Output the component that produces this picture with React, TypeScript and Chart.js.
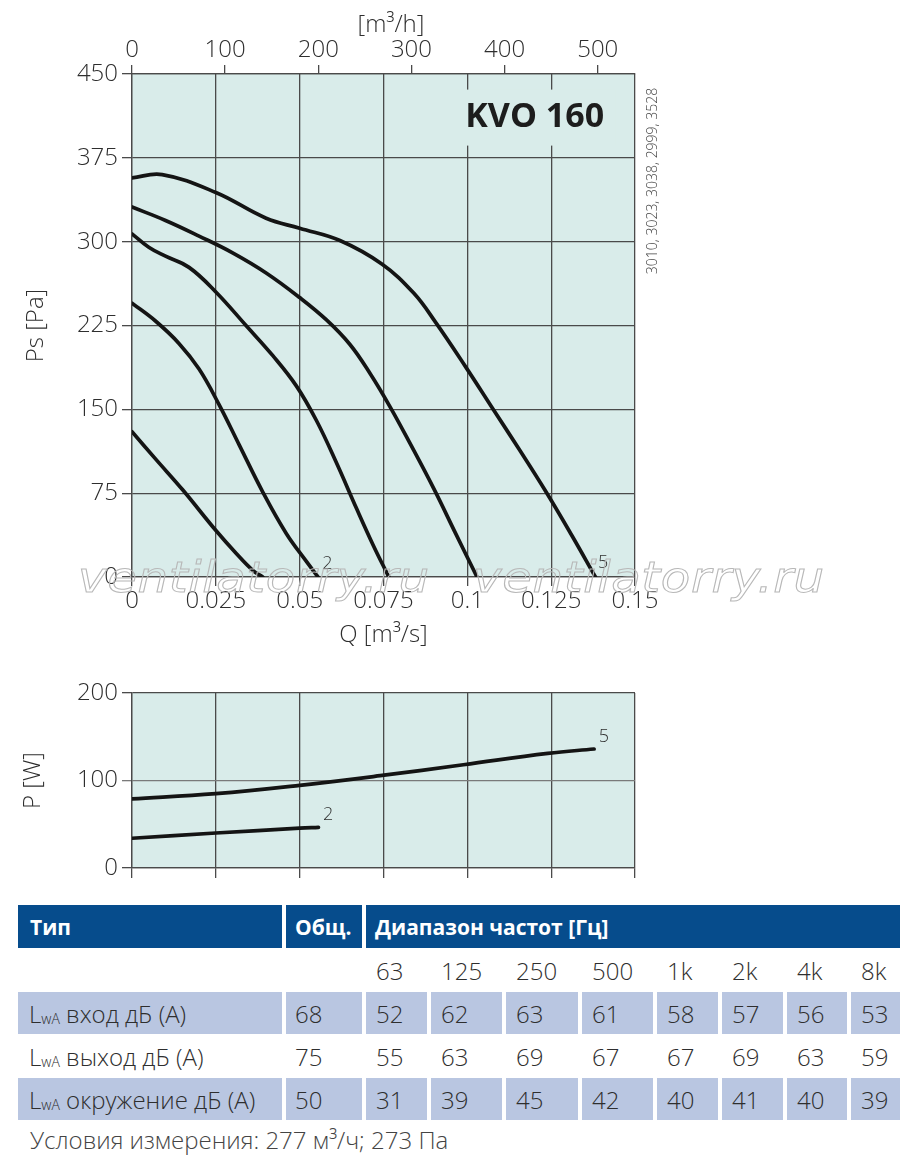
import React, { useEffect, useRef } from "react";
import { Chart, registerables } from "chart.js";

Chart.register(...registerables);

const FONT = "'Open Sans', 'Noto Sans', 'DejaVu Sans', sans-serif";
const TEXT = "#2e2e2e";
const GRID = "#4a4a4a";
const GRID_LIGHT = "#7a7a7a";
const PLOT_BG = "#d9ecea";
const CURVE = "#141414";
const HEADER_BG = "#064c8c";
const ROW_BG = "#b9c6e1";

// ---------- Top chart: static pressure vs airflow ----------
const Q_MAX = 0.15;
const Q_STEP = 0.025;
const PS_MAX = 450;
const PS_STEP = 75;
const QH_MAX = 540;
const QH_STEP = 100;

const CURVE1_Q = [0, 0.0072, 0.0151, 0.0249, 0.0311, 0.036, 0.039];
const CURVE1_PS = [130, 105, 78, 42, 21, 6, 0];

const CURVE2_Q = [0, 0.007, 0.014, 0.02, 0.026, 0.032, 0.039, 0.046, 0.052, 0.0555];
const CURVE2_PS = [245, 229, 209, 186, 154, 118, 76, 39, 14, 0];

const CURVE3_Q = [0, 0.005, 0.01, 0.017, 0.025, 0.034, 0.042, 0.049, 0.055, 0.061, 0.067, 0.072, 0.0766];
const CURVE3_PS = [307, 295, 287, 277, 255, 225, 198, 171, 140, 102, 61, 28, 0];

const CURVE4_Q = [0, 0.01, 0.02, 0.03, 0.04, 0.05, 0.058, 0.065, 0.071, 0.077, 0.083, 0.09, 0.0965, 0.1029];
const CURVE4_PS = [331, 319, 305, 290, 272, 250, 230, 208, 182, 152, 119, 79, 39, 0];

const CURVE5_Q = [0, 0.009, 0.025, 0.04, 0.05, 0.062, 0.0745, 0.084, 0.0905, 0.0995, 0.1075, 0.1155, 0.1235, 0.131, 0.1382];
const CURVE5_PS = [357, 360, 344, 321, 312, 301, 280, 254, 228, 188, 151, 114, 76, 38, 0];

const CURVE_TAGS = ["2", "5"];
const CURVE_TAG_Q = [0.0583, 0.1405];
const CURVE_TAG_PS = [12, 12.5];

const MODEL = "KVO 160";
const MODEL_Q = 0.1201;
const MODEL_PS = 411;
const ARTICLES = "3010, 3023, 3038, 2999, 3528";
const FLOW_H_TITLE = "[m³/h]";
const FLOW_H_TITLE_AT = 278;

// ---------- Lower chart: power ----------
const P_MAX = 200;
const P_STEP = 100;
const POWER5_Q = [0, 0.025, 0.05, 0.074, 0.0988, 0.124, 0.1378];
const POWER5_W = [79, 85, 94.5, 105.5, 118, 131, 136];
const POWER2_Q = [0, 0.025, 0.05, 0.0556];
const POWER2_W = [34, 40, 45.5, 46.5];
const POWER_TAGS = ["2", "5"];
const POWER_TAG_Q = [0.0585, 0.1407];
const POWER_TAG_W = [61, 150];

// ---------- Table ----------
const FREQS = ["63", "125", "250", "500", "1k", "2k", "4k", "8k"];
const ROW_NAMES = ["вход дБ (А)", "выход дБ (А)", "окружение дБ (А)"];
const TOTALS = [68, 75, 50];
const INLET = [52, 62, 63, 61, 58, 57, 56, 53];
const OUTLET = [55, 63, 69, 67, 67, 69, 63, 59];
const SURROUND = [31, 39, 45, 42, 40, 41, 40, 39];
const NOTE = "Условия измерения: 277 м³/ч; 273 Па";
const WATERMARK = "ventilatorry.ru";

const tickFont = { family: FONT, size: 24, weight: "300" as any };

function pts(xs: number[], ys: number[]) {
  return xs.map((x, i) => ({ x, y: ys[i] }));
}

function fmtQ(v: number) {
  const n = Number(v);
  if (Math.abs(n) < 1e-9) return "0";
  return String(parseFloat(n.toFixed(3)));
}

const plotBackground = {
  id: "plotBackground",
  beforeDraw(chart: any) {
    const { ctx, chartArea } = chart;
    if (!chartArea) return;
    ctx.save();
    ctx.fillStyle = PLOT_BG;
    ctx.fillRect(chartArea.left, chartArea.top, chartArea.right - chartArea.left, chartArea.bottom - chartArea.top);
    ctx.restore();
  },
};

function curveDataset(xs: number[], ys: number[]) {
  return {
    data: pts(xs, ys),
    borderColor: CURVE,
    borderWidth: 3.7,
    pointRadius: 0,
    fill: false,
    tension: 0.4,
    borderCapStyle: "round" as const,
    borderJoinStyle: "round" as const,
  };
}

const topAnnotations = {
  id: "topAnnotations",
  beforeDatasetsDraw(chart: any) {
    const { ctx, scales } = chart;
    const cx = scales.x.getPixelForValue(MODEL_Q);
    const cy = scales.y.getPixelForValue(MODEL_PS);
    ctx.save();
    ctx.font = `bold 34px ${FONT}`;
    const w = ctx.measureText(MODEL).width + 22;
    ctx.fillStyle = PLOT_BG;
    ctx.fillRect(cx - w / 2, cy - 28, w, 56);
    ctx.fillStyle = "#1d1d1d";
    ctx.textAlign = "center";
    ctx.textBaseline = "middle";
    ctx.fillText(MODEL, cx, cy);
    ctx.restore();
  },
  afterDatasetsDraw(chart: any) {
    const { ctx, scales, chartArea } = chart;
    ctx.save();
    ctx.fillStyle = TEXT;
    ctx.textAlign = "center";
    ctx.textBaseline = "middle";
    ctx.font = `300 18px ${FONT}`;
    CURVE_TAGS.forEach((t, i) => {
      ctx.fillText(t, scales.x.getPixelForValue(CURVE_TAG_Q[i]), scales.y.getPixelForValue(CURVE_TAG_PS[i]));
    });
    ctx.font = `300 24px ${FONT}`;
    ctx.fillText(FLOW_H_TITLE, scales.x2.getPixelForValue(FLOW_H_TITLE_AT), chartArea.top - 49);
    ctx.font = `300 14px ${FONT}`;
    ctx.fillStyle = "#444";
    ctx.translate(chartArea.right + 18, chartArea.top + 107);
    ctx.rotate(-Math.PI / 2);
    ctx.fillText(ARTICLES, 0, 0);
    ctx.restore();
  },
};

const lowAnnotations = {
  id: "lowAnnotations",
  afterDatasetsDraw(chart: any) {
    const { ctx, scales } = chart;
    ctx.save();
    ctx.fillStyle = TEXT;
    ctx.textAlign = "center";
    ctx.textBaseline = "middle";
    ctx.font = `300 18px ${FONT}`;
    POWER_TAGS.forEach((t, i) => {
      ctx.fillText(t, scales.x.getPixelForValue(POWER_TAG_Q[i]), scales.y.getPixelForValue(POWER_TAG_W[i]));
    });
    ctx.restore();
  },
};

function TopChart() {
  const ref = useRef<HTMLCanvasElement>(null);
  useEffect(() => {
    const chart = new Chart(ref.current as HTMLCanvasElement, {
      type: "line",
      data: {
        datasets: [
          curveDataset(CURVE1_Q, CURVE1_PS),
          curveDataset(CURVE2_Q, CURVE2_PS),
          curveDataset(CURVE3_Q, CURVE3_PS),
          curveDataset(CURVE4_Q, CURVE4_PS),
          curveDataset(CURVE5_Q, CURVE5_PS),
        ] as any,
      },
      options: {
        responsive: false,
        animation: false,
        layout: { padding: { left: 0, right: 265, top: 0, bottom: 0 } },
        plugins: { legend: { display: false }, tooltip: { enabled: false } },
        scales: {
          x: {
            type: "linear",
            position: "bottom",
            min: 0,
            max: Q_MAX,
            ticks: {
              stepSize: Q_STEP,
              includeBounds: false,
              autoSkip: false,
              maxRotation: 0,
              padding: 1,
              color: TEXT,
              font: tickFont,
              callback: (v: any) => fmtQ(v),
            },
            grid: { color: GRID, lineWidth: 1.3, tickLength: 9 },
            border: { color: GRID, width: 1.3 },
            title: { display: true, text: "Q [m³/s]", color: TEXT, font: tickFont, padding: { top: 0, bottom: 0 } },
            afterFit: (s: any) => {
              s.height = 73;
            },
          },
          x2: {
            type: "linear",
            position: "top",
            min: 0,
            max: QH_MAX,
            ticks: { stepSize: QH_STEP, includeBounds: false, autoSkip: false, maxRotation: 0, padding: 0, color: TEXT, font: tickFont },
            grid: { drawOnChartArea: false, color: GRID, lineWidth: 1.3, tickLength: 9 },
            border: { color: GRID, width: 1.3 },
            afterFit: (s: any) => {
              s.height = 74;
            },
          },
          y: {
            type: "linear",
            min: 0,
            max: PS_MAX,
            ticks: { stepSize: PS_STEP, includeBounds: false, padding: 4, color: TEXT, font: tickFont },
            grid: { color: GRID, lineWidth: 1.3, tickLength: 10 },
            border: { color: GRID, width: 1.3 },
            title: { display: true, text: "Ps [Pa]", color: TEXT, font: tickFont, padding: { top: 22, bottom: 0 } },
            afterFit: (s: any) => {
              s.width = 132;
            },
          },
        },
      } as any,
      plugins: [plotBackground, topAnnotations],
    });
    return () => chart.destroy();
  }, []);
  return (
    <canvas
      ref={ref}
      width={900}
      height={650}
      style={{ position: "absolute", left: 0, top: 0, width: 900, height: 650 }}
    />
  );
}

function PowerChart() {
  const ref = useRef<HTMLCanvasElement>(null);
  useEffect(() => {
    const chart = new Chart(ref.current as HTMLCanvasElement, {
      type: "line",
      data: {
        datasets: [curveDataset(POWER5_Q, POWER5_W), curveDataset(POWER2_Q, POWER2_W)] as any,
      },
      options: {
        responsive: false,
        animation: false,
        layout: { padding: { left: 0, right: 265, top: 33, bottom: 0 } },
        plugins: { legend: { display: false }, tooltip: { enabled: false } },
        scales: {
          x: {
            type: "linear",
            position: "bottom",
            min: 0,
            max: Q_MAX,
            ticks: { stepSize: Q_STEP, includeBounds: false, autoSkip: false, maxRotation: 0, font: tickFont, callback: () => "" },
            grid: { color: GRID, lineWidth: 1.3, tickLength: 10 },
            border: { color: GRID, width: 1.3 },
            afterFit: (s: any) => {
              s.height = 22;
            },
          },
          y: {
            type: "linear",
            min: 0,
            max: P_MAX,
            ticks: { stepSize: P_STEP, includeBounds: false, padding: 4, color: TEXT, font: tickFont },
            grid: {
              color: (c: any) => (c.tick && c.tick.value > 0 && c.tick.value < P_MAX ? GRID_LIGHT : GRID),
              lineWidth: 1.3,
              tickLength: 10,
            },
            border: { color: GRID, width: 1.3 },
            title: { display: true, text: "P [W]", color: TEXT, font: tickFont, padding: { top: 19, bottom: 0 } },
            afterFit: (s: any) => {
              s.width = 132;
            },
          },
        },
      } as any,
      plugins: [plotBackground, lowAnnotations],
    });
    return () => chart.destroy();
  }, []);
  return (
    <canvas
      ref={ref}
      width={900}
      height={230}
      style={{ position: "absolute", left: 0, top: 660, width: 900, height: 230 }}
    />
  );
}

const cellBase: React.CSSProperties = {
  display: "flex",
  alignItems: "center",
  paddingLeft: 10,
  boxSizing: "border-box",
  whiteSpace: "nowrap",
  overflow: "hidden",
};

function Lwa({ name }: { name: string }) {
  return (
    <span>
      L<span style={{ fontSize: 14, position: "relative", top: 1 }}>wA</span> {name}
    </span>
  );
}

function NoiseTable() {
  const rows = [INLET, OUTLET, SURROUND];
  const cells: React.ReactNode[] = [];
  const head: React.CSSProperties = { ...cellBase, background: HEADER_BG, color: "#fff", fontWeight: 700, fontSize: 21 };
  cells.push(<div key="h1" style={{ ...head, paddingLeft: 12 }}>Тип</div>);
  cells.push(<div key="h2" style={{ ...head, paddingLeft: 9 }}>Общ.</div>);
  cells.push(<div key="h3" style={{ ...head, gridColumn: "3 / 11", paddingLeft: 9 }}>Диапазон частот [Гц]</div>);
  cells.push(<div key="f1" style={cellBase} />);
  cells.push(<div key="f2" style={cellBase} />);
  FREQS.forEach((f) => cells.push(<div key={"f" + f} style={cellBase}>{f}</div>));
  rows.forEach((vals, r) => {
    const bg = r === 1 ? "transparent" : ROW_BG;
    cells.push(
      <div key={"n" + r} style={{ ...cellBase, background: bg, paddingLeft: 11 }}>
        <Lwa name={ROW_NAMES[r]} />
      </div>
    );
    cells.push(<div key={"t" + r} style={{ ...cellBase, background: bg, paddingLeft: 9 }}>{TOTALS[r]}</div>);
    vals.forEach((v, c) =>
      cells.push(
        <div key={"v" + r + "-" + c} style={{ ...cellBase, background: bg }}>
          {v}
        </div>
      )
    );
  });
  return (
    <div
      style={{
        position: "absolute",
        left: 18,
        top: 905,
        display: "grid",
        gridTemplateColumns: "264px 76px 61px 71px 72px 71px 61px 61px 60px 50px",
        gridTemplateRows: "43px 44px 42px 44px 42px",
        columnGap: 4,
        rowGap: 0,
        fontFamily: FONT,
        fontSize: 24,
        fontWeight: 300,
        color: TEXT,
      }}
    >
      {cells}
    </div>
  );
}

export default function App() {
  const wm: React.CSSProperties = {
    position: "absolute",
    top: 557,
    fontFamily: "'DejaVu Sans', sans-serif",
    fontStyle: "italic",
    fontSize: 42,
    lineHeight: 1,
    letterSpacing: 0.5,
    color: "transparent",
    WebkitTextStroke: "1px #b8b8b8",
    transform: "scaleX(1.15)",
    transformOrigin: "left top",
    pointerEvents: "none",
    whiteSpace: "nowrap",
  } as any;
  return (
    <div style={{ position: "absolute", left: 0, top: 0, width: 900, height: 1164, background: "#fff", overflow: "hidden" }}>
      <TopChart />
      <PowerChart />
      <NoiseTable />
      <div
        style={{
          position: "absolute",
          left: 30,
          top: 1125,
          fontFamily: FONT,
          fontWeight: 300,
          fontSize: 24,
          lineHeight: "30px",
          color: "#444",
          whiteSpace: "nowrap",
        }}
      >
        {NOTE}
      </div>
      <div style={{ ...wm, left: 78 }}>{WATERMARK}</div>
      <div style={{ ...wm, left: 473 }}>{WATERMARK}</div>
    </div>
  );
}
